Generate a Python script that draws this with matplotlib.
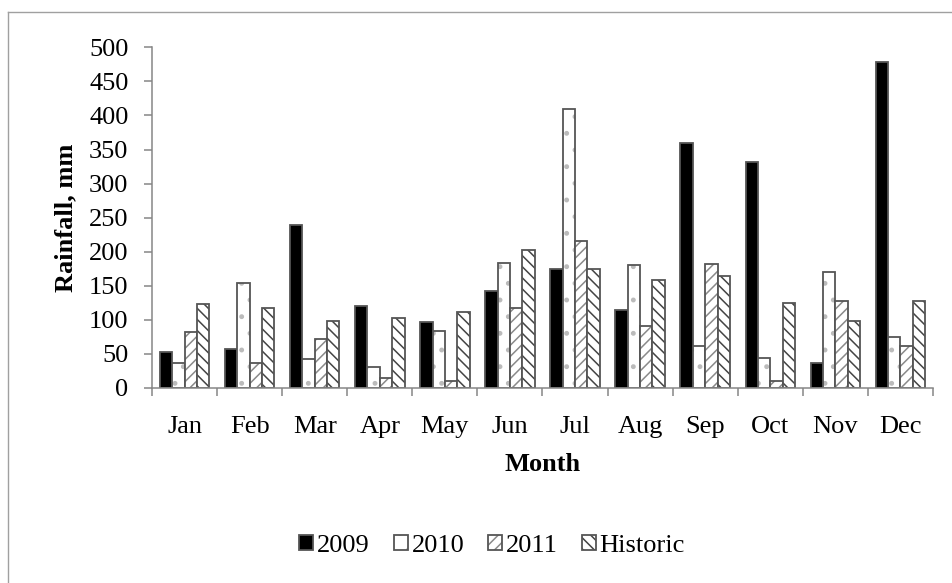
import numpy as np
import matplotlib
matplotlib.use('Agg')
import matplotlib.pyplot as plt
from matplotlib.lines import Line2D
from matplotlib.legend_handler import HandlerTuple

months = ['Jan', 'Feb', 'Mar', 'Apr', 'May', 'Jun',
          'Jul', 'Aug', 'Sep', 'Oct', 'Nov', 'Dec']
rain_2009 = [53, 57, 239, 121, 97, 143, 175, 114, 360, 332, 36, 479]
rain_2010 = [36, 154, 42, 31, 83, 184, 410, 181, 61, 44, 170, 75]
rain_2011 = [82, 36, 72, 14, 10, 117, 216, 91, 182, 11, 128, 62]
rain_hist = [124, 118, 99, 102, 112, 202, 175, 158, 164, 125, 99, 128]
series_names = ['2009', '2010', '2011', 'Historic']

plt.rcParams['font.family'] = ['Liberation Serif', 'DejaVu Serif']
plt.rcParams['hatch.linewidth'] = 1.1
fs = 19

fig = plt.figure(figsize=(9.53, 5.83), dpi=100)
ax = fig.add_axes([152 / 953, 1 - 388 / 583, (933 - 152) / 953, (388 - 47.3) / 583])

axis_grey = '#868686'
edge = '#555555'
x = np.arange(len(months))
w = 0.19

# (face colour, hatch, hatch colour)
styles = [('black', None, 'black'),
          ('white', '.', '#bbbbbb'),
          ('white', '///', '#8a8a8a'),
          ('white', '\\\\\\', '#444444')]

handles = []
for i, (vals, (fc, h, hc)) in enumerate(zip([rain_2009, rain_2010, rain_2011, rain_hist], styles)):
    pos = x + (i - 1.5) * w
    b1 = ax.bar(pos, vals, w, color=fc, edgecolor=hc, hatch=h, linewidth=0)
    b2 = ax.bar(pos, vals, w, fill=False, edgecolor=edge, linewidth=1.3)
    handles.append((b1, b2))

ax.set_xlim(-0.5, 11.5)
ax.set_ylim(0, 500)
ax.set_yticks(np.arange(0, 501, 50))

# labels at the centres, tick marks at category boundaries
ax.set_xticks(x)
ax.set_xticklabels(months)
ax.set_xticks(np.arange(-0.5, 12, 1), minor=True)
ax.tick_params(axis='x', which='major', length=0, pad=20, labelsize=fs)
ax.tick_params(axis='x', which='minor', length=6, width=1.1, color=axis_grey, direction='out')
ax.tick_params(axis='y', length=6, width=1.1, color=axis_grey, pad=11, labelsize=fs)

for s in ['top', 'right']:
    ax.spines[s].set_visible(False)
for s in ['left', 'bottom']:
    ax.spines[s].set_color(axis_grey)
    ax.spines[s].set_linewidth(1.1)

ax.set_ylabel('Rainfall, mm', fontsize=fs, fontweight='bold', labelpad=8)
ax.set_xlabel('Month', fontsize=fs, fontweight='bold', labelpad=11)

fig.legend(handles, series_names, loc='center', bbox_to_anchor=(492 / 953, 1 - 546 / 583),
           ncol=4, frameon=False, fontsize=fs, handlelength=0.53, handleheight=0.53,
           handletextpad=0.15, columnspacing=0.9,
           handler_map={tuple: HandlerTuple(ndivide=1)})

# outer chart-area border
fig.add_artist(Line2D([8 / 953, 8 / 953], [0, 1 - 12 / 583], color='#a0a0a0', lw=1, transform=fig.transFigure))
fig.add_artist(Line2D([8 / 953, 1], [1 - 12 / 583, 1 - 12 / 583], color='#a0a0a0', lw=1, transform=fig.transFigure))

fig.savefig('out.png', dpi=100)
